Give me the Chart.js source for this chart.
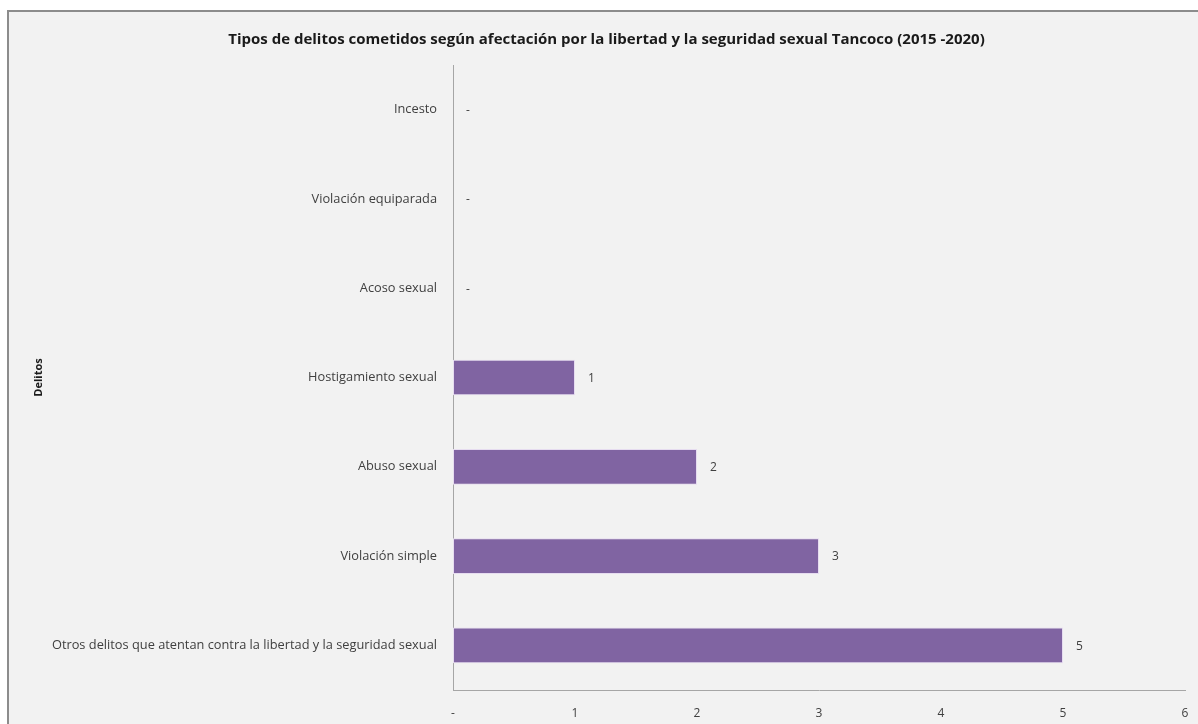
<!DOCTYPE html>
<html>
<head>
<meta charset="utf-8">
<script src="https://cdn.jsdelivr.net/npm/chart.js@4.4.1/dist/chart.umd.min.js"></script>
<style>
  body { margin: 0; background: #ffffff; overflow: hidden; }
  #frame {
    position: absolute; left: 7px; top: 10px; width: 1200px; height: 730px;
    border: 2px solid #8c8c8c; background: #f2f2f2;
  }
  #chart { position: absolute; left: 0; top: 0; }
</style>
</head>
<body>
<div id="frame"></div>
<canvas id="chart" width="1198" height="724"></canvas>
<script>
// datos del gráfico
const categorias = [
  'Incesto',
  'Violación equiparada',
  'Acoso sexual',
  'Hostigamiento sexual',
  'Abuso sexual',
  'Violación simple',
  'Otros delitos que atentan contra la libertad y la seguridad sexual'
];
const valores = [0, 0, 0, 1, 2, 3, 5];
const tituloGrafico = 'Tipos de delitos cometidos según afectación por la libertad y la seguridad sexual Tancoco (2015 -2020)';

const fuente = "'Open Sans', 'Noto Sans', sans-serif";

// etiquetas de valor al final de cada barra
const etiquetasBarras = {
  id: 'etiquetasBarras',
  afterDatasetsDraw(chart) {
    const ctx = chart.ctx;
    const meta = chart.getDatasetMeta(0);
    ctx.save();
    ctx.font = '12px ' + fuente;
    ctx.fillStyle = '#404040';
    ctx.textAlign = 'left';
    ctx.textBaseline = 'middle';
    meta.data.forEach((bar, i) => {
      const v = valores[i];
      ctx.fillText(v === 0 ? '-' : String(v), bar.x + 13, bar.y + 1);
    });
    ctx.restore();
  }
};

new Chart(document.getElementById('chart'), {
  type: 'bar',
  data: {
    labels: categorias,
    datasets: [{
      data: valores,
      backgroundColor: '#8064a2',
      borderColor: '#e6dcf0',
      borderWidth: 1,
      borderSkipped: false,
      categoryPercentage: 1,
      barPercentage: 0.4
    }]
  },
  options: {
    indexAxis: 'y',
    responsive: false,
    animation: false,
    layout: { padding: { left: 28, right: 13, top: 31, bottom: 0 } },
    plugins: {
      legend: { display: false },
      tooltip: { enabled: false },
      title: {
        display: true,
        text: tituloGrafico,
        color: '#1a1a1a',
        font: { family: fuente, size: 15, weight: 'bold' },
        padding: { top: 0, bottom: 16 }
      }
    },
    scales: {
      x: {
        min: 0,
        max: 6,
        ticks: {
          stepSize: 1,
          color: '#404040',
          font: { family: fuente, size: 12 },
          padding: 16,
          callback: v => v === 0 ? '-' : v
        },
        grid: { display: false, drawTicks: false },
        border: { display: true, color: '#a6a6a6', width: 1 },
        afterFit: s => { s.height = 34; s.paddingRight = 0; }
      },
      y: {
        ticks: {
          color: '#404040',
          font: { family: fuente, size: 12.8 },
          padding: 16
        },
        grid: { display: false, drawTicks: false },
        border: { display: true, color: '#a6a6a6', width: 1 },
        title: {
          display: true,
          text: 'Delitos',
          color: '#1a1a1a',
          font: { family: fuente, size: 11, weight: 'bold' }
        },
        afterFit: s => { s.width = 425; }
      }
    }
  },
  plugins: [etiquetasBarras]
});
</script>
</body>
</html>
